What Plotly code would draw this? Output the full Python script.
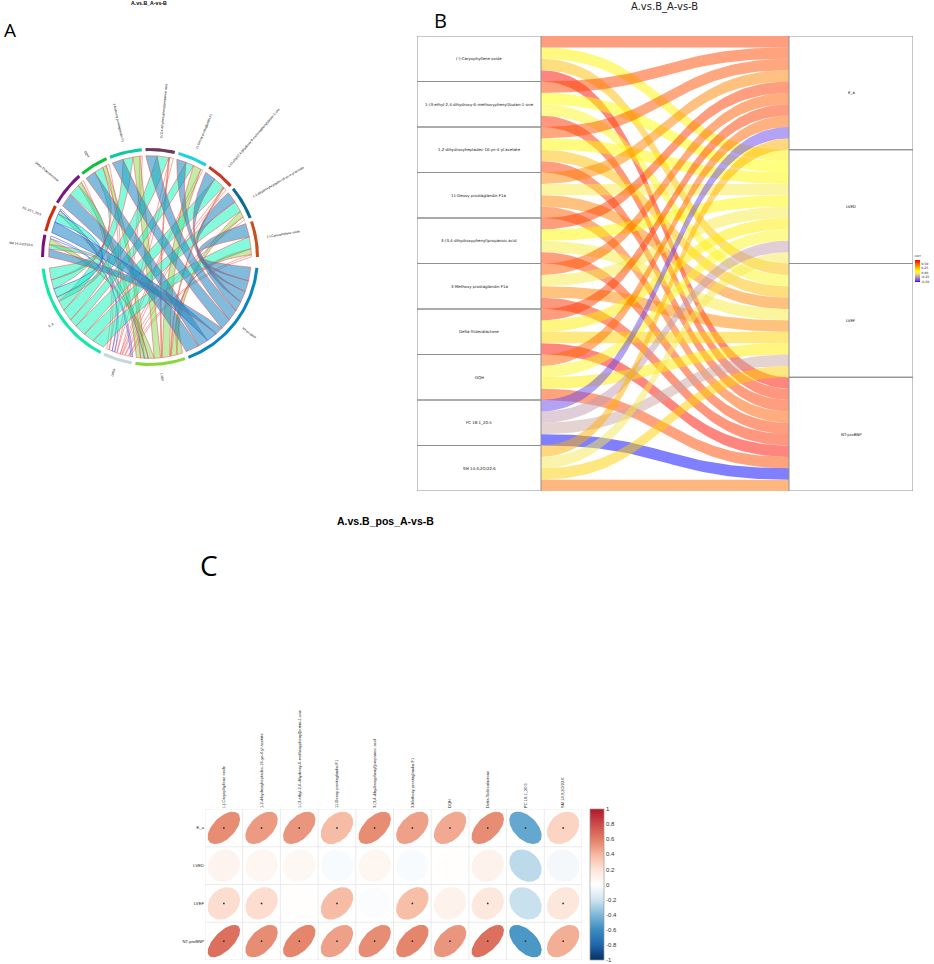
import math
import numpy as np
import plotly.graph_objects as go

# ---------- data ----------
metabolites_c = ["(-)-Caryophyllene oxide", "1,2-dihydroxyheptadec-16-yn-4-yl acetate",
                 "1-(3-ethyl-2,4-dihydroxy-6-methoxyphenyl)butan-1-one", "11-Deoxy prostaglandin F1",
                 "3-(3,4-dihydroxyphenyl)propanoic acid", "3-Methoxy prostaglandin F1", "DQH",
                 "Delta-Tridecalactone", "PC 18:1_20:5", "SM 14:3;2O/22:6"]
clinical_c = ["E_a", "LVED", "LVEF", "NT-proBNP"]
corr_E_a = [0.55, 0.50, 0.52, 0.38, 0.55, 0.48, 0.45, 0.55, -0.48, 0.27]
corr_LVED = [0.08, 0.07, 0.05, -0.03, 0.07, -0.03, 0.01, 0.10, -0.25, -0.05]
corr_LVEF = [0.23, 0.23, 0.01, 0.38, -0.02, 0.37, 0.10, 0.17, -0.22, 0.18]
corr_NT = [0.66, 0.55, 0.58, 0.48, 0.55, 0.58, 0.52, 0.66, -0.55, 0.43]
signif_E_a = [1, 1, 1, 1, 1, 1, 1, 1, 1, 1]
signif_LVED = [0, 0, 0, 0, 0, 0, 0, 0, 0, 0]
signif_LVEF = [1, 1, 0, 1, 0, 1, 0, 1, 0, 1]
signif_NT = [1, 1, 1, 1, 1, 1, 1, 1, 1, 1]

# chord widths, in the metabolites_c order
chord_NT = [0.70, 0.58, 0.58, 0.50, 0.58, 0.58, 0.54, 0.70, 0.56, 0.40]
chord_E_a = [0.62, 0.56, 0.60, 0.42, 0.60, 0.52, 0.48, 0.62, 0.45, 0.24]
chord_LVEF = [0.30, 0.32, 0.05, 0.42, 0.05, 0.36, 0.20, 0.22, 0.20, 0.30]
chord_LVED = [0.12, 0.18, 0.15, 0.11, 0.19, 0.12, 0.16, 0.14, 0.09, 0.14]

metabolites_b = ["(-)-Caryophyllene oxide", "1-(3-ethyl-2,4-dihydroxy-6-methoxyphenyl)butan-1-one",
                 "1,2-dihydroxyheptadec-16-yn-4-yl acetate", "11-Deoxy prostaglandin F1a",
                 "3-(3,4-dihydroxyphenyl)propanoic acid", "3-Methoxy prostaglandin F1a",
                 "Delta-Tridecalactone", "DQH", "PC 18:1_20:5", "SM 14:3;2O/22:6"]

# ---------- helpers and styles ----------
W, H = 934, 964
fig = go.Figure()


def dom_x(a, b):
    return [a / W, b / W]


def dom_y(top, bottom):
    return [1 - bottom / H, 1 - top / H]


def hex_rgb(h):
    return tuple(int(h[i:i + 2], 16) for i in (1, 3, 5))


def scale_color(value, stops):
    vals = [s[0] for s in stops]
    rgb = [hex_rgb(s[1]) for s in stops]
    v = min(max(value, vals[0]), vals[-1])
    return tuple(float(np.interp(v, vals, [c[i] for c in rgb])) for i in range(3))


def area(xs, ys, fill, line="rgba(0,0,0,0)", width=0.0, xa="x", ya="y"):
    fig.add_trace(go.Scatter(x=xs, y=ys, mode="lines", fill="toself", fillcolor=fill,
                             line=dict(color=line, width=width), hoverinfo="skip",
                             showlegend=False, xaxis=xa, yaxis=ya))


hidden = dict(visible=False, fixedrange=True)

# ---------- panel A: chord ----------
A_CX, A_CY, A_R = 150, 257, 109
A_L, A_T, A_RIGHT, A_B = 0, 0, 320, 400
fig.update_layout(
    xaxis=dict(domain=dom_x(A_L, A_RIGHT), range=[(A_L - A_CX) / A_R, (A_RIGHT - A_CX) / A_R], **hidden),
    yaxis=dict(domain=dom_y(A_T, A_B), range=[(A_CY - A_B) / A_R, (A_CY - A_T) / A_R], **hidden),
)

chord_widths = {"NT-proBNP": chord_NT, "E_a": chord_E_a, "LVEF": chord_LVEF, "LVED": chord_LVED}
corr_by_target = {"NT-proBNP": corr_NT, "E_a": corr_E_a, "LVEF": corr_LVEF, "LVED": corr_LVED}
target_order = ["NT-proBNP", "LVEF", "LVED", "E_a"]
metab_clockwise = [9, 8, 7, 6, 5, 4, 3, 2, 1, 0]
link_order_in_metab = ["NT-proBNP", "E_a", "LVEF", "LVED"]
order_main = [0, 1, 2, 3, 4, 5, 9, 8, 6, 7]
order_lved = [8, 0, 1, 2, 3, 4, 5, 9, 6, 7]
target_link_order = {"NT-proBNP": order_main, "E_a": order_main, "LVEF": order_main, "LVED": order_lved}

sector_colors = {"NT-proBNP": "#0a86bc", "LVEF": "#86d93a", "LVED": "#c2d8da", "E_a": "#12e8a8",
                 9: "#7c0f80", 8: "#d62a0c", 7: "#7a1680", 6: "#10c03c", 5: "#0ec9a2",
                 4: "#6d3a58", 3: "#1cd2e0", 2: "#c43a28", 1: "#0e6c90", 0: "#c8501e"}
ribbon_fill = {"NT-proBNP": "rgba(40,140,195,0.58)", "E_a": "rgba(20,245,190,0.52)",
               "LVEF": "rgba(130,215,70,0.48)", "LVED": "rgba(255,255,255,0.12)"}

GAP, GAP_BIG, START = 2.0, 6.2, 5.8
total = sum(sum(v) for v in chord_widths.values())
deg_unit = (360 - START - GAP_BIG - 12 * GAP) / (2 * total)
sectors = {}
angle = START
for t in target_order:
    span = sum(chord_widths[t]) * deg_unit
    sectors[t] = (angle, angle + span)
    angle += span + GAP
angle += GAP_BIG - GAP
for m in metab_clockwise:
    span = sum(chord_widths[t][m] for t in chord_widths) * deg_unit
    sectors[m] = (angle, angle + span)
    angle += span + GAP


def polar(a, r):
    rad = np.radians(a)
    return r * np.cos(rad), -r * np.sin(rad)


R_OUT, R_IN, R_LINK = 1.0, 0.972, 0.93
LINK_DEPTH, LINK_BEND = 0.47, 0.74
pos = {}
for t in target_order:
    a = sectors[t][0]
    for m in target_link_order[t]:
        w = chord_widths[t][m] * deg_unit
        pos[(t, m, "t")] = (a, a + w)
        a += w
for m in metab_clockwise:
    a = sectors[m][0]
    for t in link_order_in_metab:
        w = chord_widths[t][m] * deg_unit
        pos[(t, m, "m")] = (a, a + w)
        a += w


def bez(a0, a1, n=40):
    x0, y0 = polar(a0, R_LINK)
    x1, y1 = polar(a1, R_LINK)
    mx, my = (x0 + x1) / 2, (y0 + y1) / 2
    rc = math.hypot(mx, my)
    mid = min(LINK_DEPTH * R_LINK, LINK_BEND * rc)
    k = (2 * mid - rc) / rc if rc > 1e-9 else 0.0
    cx, cy = mx * k, my * k
    s = np.linspace(0, 1, n)
    return ((1 - s) ** 2 * x0 + 2 * s * (1 - s) * cx + s ** 2 * x1,
            (1 - s) ** 2 * y0 + 2 * s * (1 - s) * cy + s ** 2 * y1)


for t in ["LVED", "LVEF", "E_a", "NT-proBNP"]:
    for m in range(10):
        m0, m1 = pos[(t, m, "m")]
        t0, t1 = pos[(t, m, "t")]
        arc1 = polar(np.linspace(m0, m1, 12), R_LINK)
        arc2 = polar(np.linspace(t0, t1, 12), R_LINK)
        b1 = bez(m1, t0)
        b2 = bez(t1, m0)
        xs = np.concatenate([arc1[0], b1[0], arc2[0], b2[0]])
        ys = np.concatenate([arc1[1], b1[1], arc2[1], b2[1]])
        neg = corr_by_target[t][m] <= -0.05
        edge = "rgba(50,70,235,0.8)" if neg else "rgba(238,70,70,0.75)"
        area(xs, ys, ribbon_fill[t], edge, 0.65)

for key, (a0, a1) in sectors.items():
    th = np.linspace(a0, a1, 40)
    ox, oy = polar(th, R_OUT)
    ix, iy = polar(th[::-1], R_IN)
    area(np.concatenate([ox, ix]), np.concatenate([oy, iy]), sector_colors[key])

annotations = []
PX_CHAR = 1.55
for key, (a0, a1) in sectors.items():
    label = key if isinstance(key, str) else metabolites_c[key]
    mid = (a0 + a1) / 2
    ta = mid if (mid < 90 or mid > 270) else mid - 180
    if ta > 180:
        ta -= 360
    r = 1.08 + len(label) * PX_CHAR / A_R / 2
    lx, ly = polar(mid, r)
    annotations.append(dict(x=float(lx), y=float(ly), xref="x", yref="y", text=label, showarrow=False,
                            textangle=float(ta), xanchor="center", yanchor="middle",
                            font=dict(size=3.2, family="Liberation Sans", color="#000")))

# ---------- panel B: alluvial ----------
B_L, B_R, B_T, B_B = 417, 913, 36, 491
fig.update_layout(
    xaxis2=dict(domain=dom_x(B_L, B_R), range=[0, 4], **hidden),
    yaxis2=dict(domain=dom_y(B_T, B_B), range=[40, 0], **hidden),
)
b_stops = [[-0.55, "#0000ff"], [-0.48, "#6a46ee"], [-0.25, "#c49cb0"], [-0.08, "#f2e070"], [0.05, "#ffff00"],
           [0.30, "#ffa500"], [0.69, "#ff0000"]]
c_index_for_b = [0, 2, 1, 3, 4, 5, 7, 6, 8, 9]
rows_b = [corr_E_a, corr_LVED, corr_LVEF, corr_NT]

s = np.linspace(0, 1, 60)
bx = 1 + 2 * (3 * (1 - s) ** 2 * s * 0.5 + 3 * (1 - s) * s ** 2 * 0.5 + s ** 3)
by = 3 * (1 - s) * s ** 2 + s ** 3
for i in range(10):
    for j in range(4):
        y_left = i * 4 + j
        y_right = j * 10 + i
        r, g, b = scale_color(rows_b[j][c_index_for_b[i]], b_stops)
        top = y_left + (y_right - y_left) * by
        area(np.concatenate([bx, bx[::-1]]), np.concatenate([top, top[::-1] + 1]),
             f"rgba({r:.0f},{g:.0f},{b:.0f},0.5)", xa="x2", ya="y2")

box_line = dict(color="#8f8f8f", width=1)
for i, name in enumerate(metabolites_b):
    fig.add_trace(go.Scatter(x=[0, 1, 1, 0, 0], y=[4 * i, 4 * i, 4 * i + 4, 4 * i + 4, 4 * i], mode="lines",
                             line=box_line, hoverinfo="skip", showlegend=False, xaxis="x2", yaxis="y2"))
    annotations.append(dict(x=0.5, y=4 * i + 2, xref="x2", yref="y2", text=name, showarrow=False,
                            font=dict(size=3.9, family="DejaVu Sans", color="#111")))
for j, name in enumerate(clinical_c):
    fig.add_trace(go.Scatter(x=[3, 4, 4, 3, 3], y=[10 * j, 10 * j, 10 * j + 10, 10 * j + 10, 10 * j], mode="lines",
                             line=box_line, hoverinfo="skip", showlegend=False, xaxis="x2", yaxis="y2"))
    annotations.append(dict(x=3.5, y=10 * j + 5, xref="x2", yref="y2", text=name, showarrow=False,
                            font=dict(size=3.9, family="DejaVu Sans", color="#111")))

span_b = b_stops[-1][0] - b_stops[0][0]
fig.add_trace(go.Scatter(x=[1, 1], y=[0, 0], mode="markers", xaxis="x2", yaxis="y2", hoverinfo="skip", showlegend=False,
                         marker=dict(size=1, opacity=0, color=[b_stops[0][0], b_stops[-1][0]],
                                     colorscale=[[(v - b_stops[0][0]) / span_b, c] for v, c in b_stops],
                                     cmin=b_stops[0][0], cmax=b_stops[-1][0],
                                     colorbar=dict(x=914.5 / W, xanchor="left", y=1 - 282.3 / H, yanchor="bottom",
                                                   lenmode="pixels", len=30.6, thicknessmode="pixels", thickness=5,
                                                   xpad=0, ypad=0, outlinewidth=0,
                                                   tickvals=[0.5, 0.25, 0, -0.25, -0.5],
                                                   ticktext=["0.50", "0.25", "0.00", "-0.25", "-0.50"],
                                                   ticks="", tickfont=dict(size=3.2, family="DejaVu Sans", color="#222"),
                                                   title=dict(text="corr", side="top",
                                                              font=dict(size=3.2, family="DejaVu Sans", color="#222"))))))

# ---------- panel C: corrplot ellipses ----------
C_L, C_R, C_T, C_B = 205, 582, 809, 960
fig.update_layout(
    xaxis3=dict(domain=dom_x(C_L, C_R), range=[0, 10], side="top", tickvals=[i + 0.5 for i in range(10)],
                ticktext=metabolites_c, tickangle=-90, showgrid=False, zeroline=False, ticks="",
                tickfont=dict(size=4.05, family="Liberation Sans", color="#222"), anchor="y3", fixedrange=True),
    yaxis3=dict(domain=dom_y(C_T, C_B), range=[4, 0], tickvals=[i + 0.5 for i in range(4)],
                ticktext=clinical_c, showgrid=False, zeroline=False, ticks="",
                tickfont=dict(size=4.2, family="Liberation Sans", color="#222"), anchor="x3", fixedrange=True),
)
c_stops = [[-1, "#053061"], [-0.8, "#2166ac"], [-0.6, "#3a8cc0"], [-0.4, "#80b9d9"], [-0.2, "#d1e5f0"],
           [0, "#ffffff"], [0.2, "#fde4d8"], [0.4, "#f6b79f"], [0.6, "#e27f66"], [0.8, "#cd4a4a"], [1, "#b2182b"]]
grid = "#e3e3e3"
for i in range(11):
    fig.add_trace(go.Scatter(x=[i, i], y=[0, 4], mode="lines", line=dict(color=grid, width=0.7), hoverinfo="skip",
                             showlegend=False, xaxis="x3", yaxis="y3"))
for i in range(5):
    fig.add_trace(go.Scatter(x=[0, 10], y=[i, i], mode="lines", line=dict(color=grid, width=0.7), hoverinfo="skip",
                             showlegend=False, xaxis="x3", yaxis="y3"))
rows_c = [corr_E_a, corr_LVED, corr_LVEF, corr_NT]
signif_c = [signif_E_a, signif_LVED, signif_LVEF, signif_NT]
theta = np.linspace(0, 2 * np.pi, 80)
ELLIPSE_R = 0.43
ex, ey = [], []
for r_i, row in enumerate(rows_c):
    for c_i, v in enumerate(row):
        d = math.acos(v)
        dx = ELLIPSE_R * np.cos(theta + d / 2)
        dy = ELLIPSE_R * np.cos(theta - d / 2)
        rr, gg, bb = scale_color(v, c_stops)
        area(c_i + 0.5 + dx, r_i + 0.5 - dy, f"rgb({rr:.0f},{gg:.0f},{bb:.0f})", xa="x3", ya="y3")
        if signif_c[r_i][c_i]:
            ex.append(c_i + 0.5)
            ey.append(r_i + 0.5)
fig.add_trace(go.Scatter(x=ex, y=ey, mode="markers", marker=dict(size=1.8, color="#333"), hoverinfo="skip",
                         showlegend=False, xaxis="x3", yaxis="y3"))
fig.add_trace(go.Scatter(x=[0, 0], y=[0, 0], mode="markers", xaxis="x3", yaxis="y3", hoverinfo="skip", showlegend=False,
                         marker=dict(size=1, opacity=0, color=[-1, 1], cmin=-1, cmax=1,
                                     colorscale=[[(v + 1) / 2, c] for v, c in c_stops],
                                     colorbar=dict(x=589.5 / W, xanchor="left", y=1 - 960 / H, yanchor="bottom",
                                                   lenmode="pixels", len=151, thicknessmode="pixels", thickness=13.5,
                                                   xpad=0, ypad=0, outlinewidth=0.7, outlinecolor="#999",
                                                   tickvals=[1, 0.8, 0.6, 0.4, 0.2, 0, -0.2, -0.4, -0.6, -0.8, -1],
                                                   ticktext=["1", "0.8", "0.6", "0.4", "0.2", "0", "-0.2", "-0.4", "-0.6", "-0.8", "-1"],
                                                   ticks="", tickfont=dict(size=6, family="Liberation Sans", color="#333")))))

# ---------- titles and panel letters ----------
def page_text(px, py, text, size, family="Liberation Sans", bold=False, color="#000"):
    annotations.append(dict(x=px / W, y=1 - py / H, xref="paper", yref="paper", text=f"<b>{text}</b>" if bold else text,
                            showarrow=False, xanchor="center", yanchor="middle",
                            font=dict(size=size, family=family, color=color)))


page_text(149, 3.5, "A.vs.B_A-vs-B", 5.2, bold=True)
page_text(664, 7, "A.vs.B_A-vs-B", 10, family="DejaVu Sans", color="#222")
page_text(385, 521, "A.vs.B_pos_A-vs-B", 10.5, bold=True)
page_text(9.5, 29.5, "A", 19, family="Open Sans")
page_text(440, 20, "B", 20, family="Open Sans")
page_text(209, 565, "C", 28, family="Open Sans")

fig.update_layout(width=W, height=H, margin=dict(l=0, r=0, t=0, b=0), paper_bgcolor="white",
                  plot_bgcolor="white", showlegend=False, annotations=annotations)
fig.write_html("out.html", config=dict(displayModeBar=False),
               post_script="document.body.style.margin='0';")
